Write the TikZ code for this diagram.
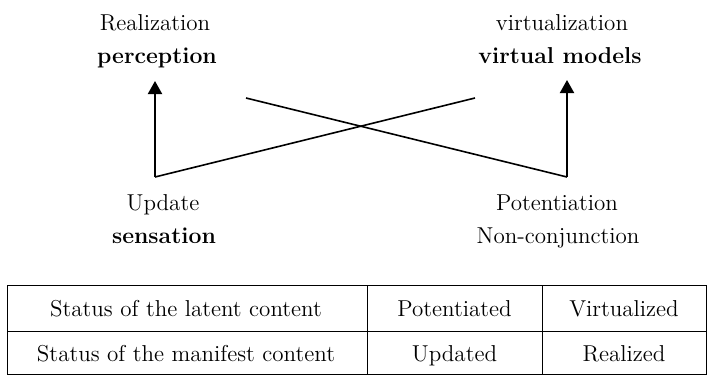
\documentclass[tikz,border=0pt]{standalone}
\usepackage{tikz}
\usetikzlibrary{arrows.meta}
\tikzset{
  lbl/.style={font=\fontsize{11.5}{13}\selectfont,inner sep=0pt,anchor=base},
  lblbold/.style={lbl,font=\fontsize{11.5}{13}\selectfont\bfseries},
  upline/.style={line width=1pt,-{Triangle[width=7pt,length=6.5pt]}},
  crossline/.style={line width=0.8pt},
  tabline/.style={line width=0.5pt},
  cell/.style={font=\fontsize{11.5}{13}\selectfont,inner sep=0pt,anchor=base}
}
\begin{document}
\begin{tikzpicture}[x=0.5pt,y=-0.5pt]
  \useasboundingbox (0,0) rectangle (707,375);
  % upper labels
  \node[lbl] (real) at (155,31) {Realization};
  \node[lblbold] (perc) at (157,63) {perception};
  \node[lbl] (virt) at (562,31) {virtualization};
  \node[lblbold] (vmod) at (560,63) {virtual models};
  % lower labels
  \node[lbl] (upd) at (163,210) {Update};
  \node[lblbold] (sens) at (164,243) {sensation};
  \node[lbl] (pot) at (557,210) {Potentiation};
  \node[lbl] (nonc) at (558,243) {Non-conjunction};
  % arrows and cross
  \coordinate (updcorner) at (155,177);
  \coordinate (potcorner) at (567,177);
  \coordinate (perctip) at (155,81);
  \coordinate (vmodtip) at (567,80);
  \coordinate (crossl) at (246,98);
  \coordinate (crossr) at (475,98);
  \draw[upline] (updcorner) -- (perctip);
  \draw[upline] (potcorner) -- (vmodtip);
  \draw[crossline] (updcorner) -- (crossr);
  \draw[crossline] (crossl) -- (potcorner);
  % table
  \draw[tabline] (7,285) rectangle (706,374);
  \draw[tabline] (7,331) -- (706,331);
  \draw[tabline] (367,285) -- (367,374);
  \draw[tabline] (542,285) -- (542,374);
  \node[cell] (latent) at (186,316) {Status of the latent content};
  \node[cell] (potd) at (454.5,316) {Potentiated};
  \node[cell] (virtd) at (624,316) {Virtualized};
  \node[cell] (manif) at (186,361) {Status of the manifest content};
  \node[cell] (updd) at (454.5,361) {Updated};
  \node[cell] (reald) at (624,361) {Realized};
\end{tikzpicture}
\end{document}
